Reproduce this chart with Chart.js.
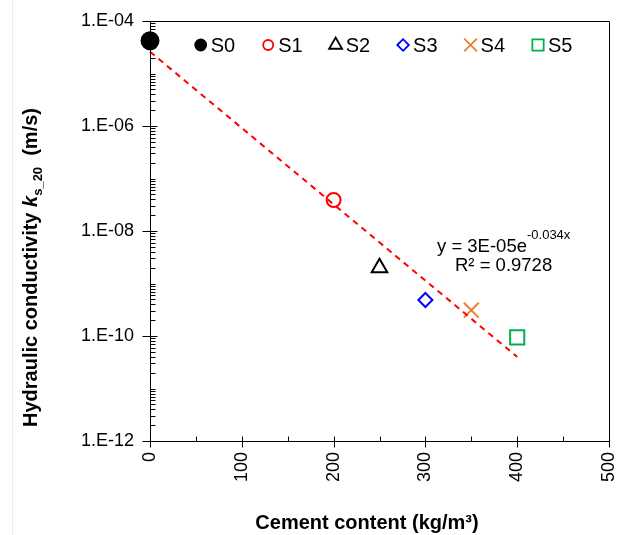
<!DOCTYPE html>
<html>
<head>
<meta charset="utf-8">
<script src="https://cdn.jsdelivr.net/npm/chart.js@4/dist/chart.umd.min.js"></script>
<style>
html,body{margin:0;padding:0;background:#fff;}
canvas{display:block;}
</style>
</head>
<body>
<canvas id="c" width="629" height="535"></canvas>
<script>
// ---- data ----
const seriesNames   = ['S0', 'S1', 'S2', 'S3', 'S4', 'S5'];
const cementContent = [0, 200, 250, 300, 350, 400];
const conductivity  = [4.2e-5, 3.9e-8, 2.0e-9, 4.85e-10, 3.1e-10, 9.4e-11];
const trendX        = [0, 400];
const trendY        = [2.6e-5, 4.0e-11];
const xTickValues   = [0, 100, 200, 300, 400, 500];
const yTickExponents = [-12, -10, -8, -6, -4];
const equationMain  = 'y = 3E-05e';
const equationSup   = '-0.034x';
const r2Text        = 'R² = 0.9728';
const xTitle        = 'Cement content (kg/m³)';

// ---- styles ----
const markerStyles = [
  {pointStyle: 'circle',   stroke: '#000000', fill: '#000000', r: 8.5, lr: 5.5},
  {pointStyle: 'circle',   stroke: '#FF0000', fill: 'rgba(0,0,0,0)', r: 7, lr: 5},
  {pointStyle: 'triangle', stroke: '#000000', fill: 'rgba(0,0,0,0)', r: 9, lr: 7.5},
  {pointStyle: 'rectRot',  stroke: '#0000FF', fill: 'rgba(0,0,0,0)', r: 7, lr: 5.8},
  {pointStyle: 'crossRot', stroke: '#ED7D31', fill: 'rgba(0,0,0,0)', r: 10.5, lr: 9},
  {pointStyle: 'rect',     stroke: '#00B050', fill: 'rgba(0,0,0,0)', r: 10, lr: 8}
];
const FONT = '"Liberation Sans", Arial, Helvetica, sans-serif';
Chart.defaults.font.family = FONT;
Chart.defaults.color = '#000';

const datasets = seriesNames.map((name, i) => ({
  label: name,
  data: [{x: cementContent[i], y: conductivity[i]}],
  showLine: false,
  pointStyle: markerStyles[i].pointStyle,
  pointRadius: markerStyles[i].r,
  pointBorderWidth: 2,
  pointBorderColor: markerStyles[i].stroke,
  pointBackgroundColor: markerStyles[i].fill,
  clip: false,
  order: 2
}));
datasets.push({
  label: 'trend',
  data: trendX.map((x, i) => ({x: x, y: trendY[i]})),
  showLine: true,
  borderColor: '#FF0000',
  borderWidth: 2,
  borderDash: [6, 5],
  pointRadius: 0,
  fill: false,
  clip: false,
  order: 1
});

const zeroPad = s => { s.paddingLeft = 0; s.paddingRight = 0; s.paddingTop = 0; s.paddingBottom = 0; };

const decor = {
  id: 'decor',
  afterDraw(chart) {
    const {ctx, chartArea: a, scales: {x, y}} = chart;
    const al = v => Math.round(v) + 0.5;
    const L = al(a.left - 0.5), R = al(a.right - 0.5), T = al(a.top - 0.5), B = al(a.bottom - 0.5);
    ctx.save();
    // faint page edge line
    ctx.strokeStyle = '#ececec'; ctx.lineWidth = 1;
    ctx.beginPath(); ctx.moveTo(12.5, 0); ctx.lineTo(12.5, chart.height); ctx.stroke();
    // frame + axes
    ctx.strokeStyle = '#000'; ctx.lineWidth = 1;
    ctx.beginPath();
    ctx.moveTo(L, B); ctx.lineTo(L, T); ctx.lineTo(R, T); ctx.lineTo(R, B); ctx.lineTo(L, B);
    // y ticks
    for (let n = -12; n <= -4; n++) {
      for (let k = 1; k <= 9; k++) {
        if (n === -4 && k > 1) break;
        const py = al(y.getPixelForValue(k * Math.pow(10, n)));
        const major = (k === 1 && n % 2 === 0);
        ctx.moveTo(major ? L - 8 : L, py);
        ctx.lineTo(L + (major ? 7 : 5), py);
      }
    }
    // x ticks
    for (let v = 0; v <= 500; v += 50) {
      const px = al(x.getPixelForValue(v));
      const major = v % 100 === 0;
      ctx.moveTo(px, B - 5);
      ctx.lineTo(px, major ? B + 6 : B);
    }
    ctx.stroke();

    // legend
    let lx = 200.7;
    const ly = 45;
    ctx.font = '20px ' + FONT;
    ctx.textBaseline = 'middle';
    ctx.textAlign = 'left';
    seriesNames.forEach((name, i) => {
      const m = markerStyles[i];
      ctx.save();
      ctx.strokeStyle = m.stroke; ctx.fillStyle = m.fill; ctx.lineWidth = 1.8;
      Chart.helpers.drawPoint(ctx, {pointStyle: m.pointStyle, radius: m.lr, rotation: 0, borderWidth: 1.8}, lx, ly);
      ctx.restore();
      ctx.fillStyle = '#000';
      ctx.fillText(name, lx + 10, ly + 1);
      lx = lx + 10 + ctx.measureText(name).width + 33;
    });

    // trendline equation
    ctx.fillStyle = '#000';
    ctx.textBaseline = 'alphabetic';
    ctx.font = '18.5px ' + FONT;
    ctx.fillText(equationMain, 437, 251.5);
    const w1 = ctx.measureText(equationMain).width;
    ctx.font = '13px ' + FONT;
    ctx.fillText(equationSup, 437 + w1, 239);
    ctx.font = '18.5px ' + FONT;
    ctx.fillText(r2Text, 455, 270.5);

    // x axis title
    ctx.font = 'bold 20px ' + FONT;
    ctx.textAlign = 'center';
    ctx.fillText(xTitle, 367, 529);

    // y axis title (rich text)
    ctx.translate(37, 427);
    ctx.rotate(-Math.PI / 2);
    ctx.textAlign = 'left';
    let tx = 0;
    const piece = (txt, font, dy) => { ctx.font = font; ctx.fillText(txt, tx, dy); tx += ctx.measureText(txt).width; };
    piece('Hydraulic conductivity ', 'bold 20px ' + FONT, 0);
    piece('k', 'italic bold 20px ' + FONT, 0);
    piece('s_20', 'bold 13px ' + FONT, 5);
    piece('  (m/s)', 'bold 20px ' + FONT, 0);
    ctx.restore();
  }
};

new Chart(document.getElementById('c'), {
  type: 'scatter',
  data: {datasets: datasets},
  options: {
    responsive: false,
    animation: false,
    events: [],
    layout: {padding: {top: 21, right: 20, left: 0, bottom: 0}},
    plugins: {legend: {display: false}, tooltip: {enabled: false}},
    scales: {
      x: {
        type: 'linear', min: 0, max: 500,
        afterBuildTicks: s => { s.ticks = xTickValues.map(v => ({value: v})); },
        afterFit: s => { s.height = 94; zeroPad(s); },
        grid: {display: false, drawTicks: false},
        border: {display: false},
        ticks: {minRotation: 90, maxRotation: 90, autoSkip: false, padding: 11,
                font: {size: 18}, color: '#000'}
      },
      y: {
        type: 'logarithmic', min: 1e-12, max: 1e-4,
        afterBuildTicks: s => { s.ticks = yTickExponents.map(e => ({value: Math.pow(10, e)})); },
        afterFit: s => { s.width = 150; zeroPad(s); },
        grid: {display: false, drawTicks: false},
        border: {display: false},
        ticks: {
          autoSkip: false, padding: 16, font: {size: 18}, color: '#000',
          callback: v => {
            const e = Math.round(Math.log10(v));
            return '1.E' + (e < 0 ? '-' : '+') + String(Math.abs(e)).padStart(2, '0');
          }
        }
      }
    }
  },
  plugins: [decor]
});
</script>
</body>
</html>
